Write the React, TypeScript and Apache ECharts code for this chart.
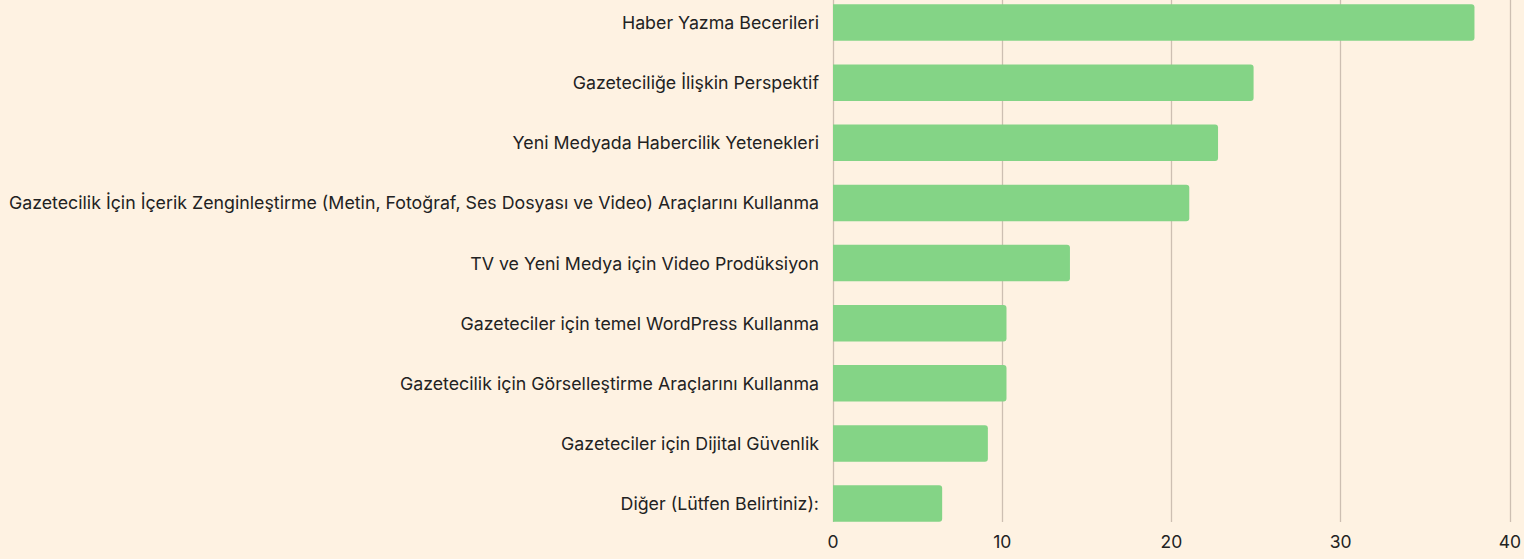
import React, { useEffect, useRef } from "react";
import * as echarts from "echarts";

const categories = [
  "Haber Yazma Becerileri",
  "Gazeteciliğe İlişkin Perspektif",
  "Yeni Medyada Habercilik Yetenekleri",
  "Gazetecilik İçin İçerik Zenginleştirme (Metin, Fotoğraf, Ses Dosyası ve Video) Araçlarını Kullanma",
  "TV ve Yeni Medya için Video Prodüksiyon",
  "Gazeteciler için temel WordPress Kullanma",
  "Gazetecilik için Görselleştirme Araçlarını Kullanma",
  "Gazeteciler için Dijital Güvenlik",
  "Diğer (Lütfen Belirtiniz):",
];
const values = [37.9, 24.85, 22.75, 21.05, 14.0, 10.25, 10.25, 9.15, 6.45];
const xMin = 0;
const xMax = 40;
const xInterval = 10;

const FONT = "Inter";

export default function App() {
  const ref = useRef<HTMLDivElement>(null);
  useEffect(() => {
    if (!ref.current) return;
    const chart = echarts.init(ref.current, undefined, { renderer: "svg" });
    chart.setOption({
      animation: false,
      backgroundColor: "#FEF2E2",
      textStyle: { fontFamily: FONT },
      grid: [
        { left: 833, right: 14, top: 0, bottom: 37 },
        { left: 833, right: 14, top: 22.5, bottom: 55.5 },
      ],
      xAxis: [
        {
          gridIndex: 0,
          type: "value",
          min: xMin,
          max: xMax,
          interval: xInterval,
          axisLine: { show: false },
          axisTick: { show: false },
          splitLine: { show: true, lineStyle: { color: "#CDBFB2", width: 1.3 } },
          axisLabel: { color: "#222222", fontSize: 17.5, margin: 10, fontFamily: FONT },
        },
        {
          gridIndex: 1,
          type: "value",
          min: xMin,
          max: xMax,
          show: false,
          splitLine: { show: false },
        },
      ],
      yAxis: [
        {
          gridIndex: 0,
          type: "category",
          data: categories,
          show: false,
        },
        {
          gridIndex: 1,
          type: "category",
          data: categories,
          inverse: true,
          boundaryGap: false,
          axisLine: { show: false },
          axisTick: { show: false },
          splitLine: { show: false },
          axisLabel: { color: "#222222", fontSize: 17.8, margin: 14, fontFamily: FONT },
        },
      ],
      series: [
        {
          type: "bar",
          xAxisIndex: 1,
          yAxisIndex: 1,
          data: values,
          barWidth: 36.5,
          clip: false,
          itemStyle: { color: "#84D486", borderRadius: [0, 3, 3, 0] },
        },
      ],
    });
    return () => chart.dispose();
  }, []);
  return (
    <div
      ref={ref}
      style={{ position: "fixed", left: 0, top: 0, width: 1524, height: 559 }}
    />
  );
}
